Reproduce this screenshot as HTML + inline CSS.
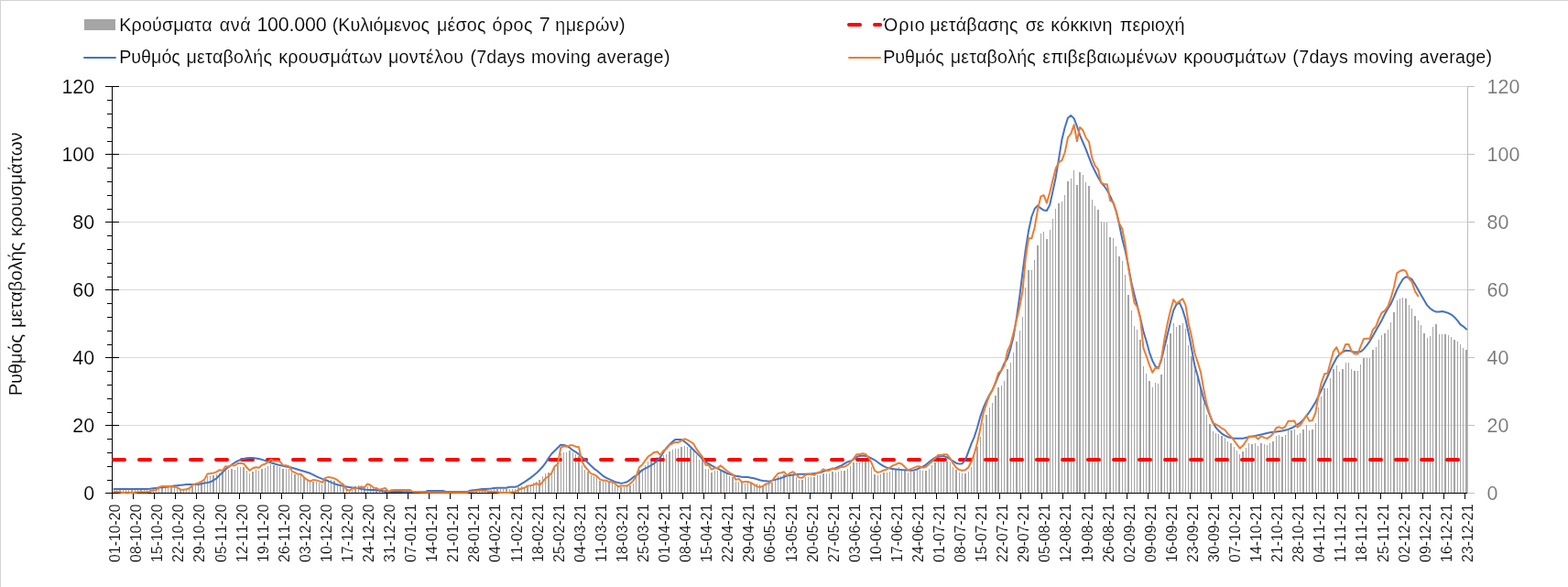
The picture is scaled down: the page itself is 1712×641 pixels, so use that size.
<!DOCTYPE html>
<html lang="el"><head><meta charset="utf-8"><title>Ρυθμός μεταβολής κρουσμάτων</title>
<style>html,body{margin:0;padding:0;background:#fff;}body{width:1712px;height:641px;overflow:hidden;}svg{display:block;}text{font-family:"Liberation Sans",sans-serif;stroke:#fff;stroke-width:0.15px;paint-order:fill stroke;font-kerning:none;}</style></head><body>
<svg width="1712" height="641" viewBox="0 0 1712 641">
<rect x="0" y="0" width="1712" height="641" fill="#fff"/>
<g shape-rendering="crispEdges"><rect x="0" y="0" width="1712" height="1" fill="#d3d3d3"/><rect x="0" y="0" width="1" height="641" fill="#d3d3d3"/></g>
<g shape-rendering="crispEdges" fill="#d9d9d9">
<rect x="123" y="464" width="1480" height="1"/>
<rect x="123" y="390" width="1480" height="1"/>
<rect x="123" y="316" width="1480" height="1"/>
<rect x="123" y="242" width="1480" height="1"/>
<rect x="123" y="168" width="1480" height="1"/>
<rect x="123" y="94" width="1480" height="1"/>
</g>
<g shape-rendering="crispEdges" fill="#a5a5a5">
<rect x="124" y="535" width="1" height="3"/>
<rect x="127" y="535" width="1" height="3"/>
<rect x="130" y="535" width="2" height="3"/>
<rect x="134" y="535" width="1" height="3"/>
<rect x="137" y="535" width="1" height="3"/>
<rect x="140" y="535" width="1" height="3"/>
<rect x="143" y="535" width="2" height="3"/>
<rect x="147" y="535" width="1" height="3"/>
<rect x="150" y="535" width="1" height="3"/>
<rect x="153" y="535" width="2" height="3"/>
<rect x="157" y="535" width="1" height="3"/>
<rect x="160" y="535" width="1" height="3"/>
<rect x="163" y="535" width="2" height="3"/>
<rect x="167" y="533" width="1" height="5"/>
<rect x="170" y="532" width="1" height="6"/>
<rect x="173" y="531" width="1" height="7"/>
<rect x="176" y="530" width="2" height="8"/>
<rect x="180" y="530" width="1" height="8"/>
<rect x="183" y="531" width="1" height="7"/>
<rect x="186" y="531" width="2" height="7"/>
<rect x="190" y="532" width="1" height="6"/>
<rect x="193" y="533" width="1" height="5"/>
<rect x="196" y="534" width="2" height="4"/>
<rect x="200" y="534" width="1" height="4"/>
<rect x="203" y="534" width="1" height="4"/>
<rect x="206" y="533" width="1" height="5"/>
<rect x="209" y="531" width="2" height="7"/>
<rect x="213" y="530" width="1" height="8"/>
<rect x="216" y="529" width="1" height="9"/>
<rect x="219" y="527" width="2" height="11"/>
<rect x="223" y="525" width="1" height="13"/>
<rect x="226" y="520" width="1" height="18"/>
<rect x="229" y="520" width="1" height="18"/>
<rect x="232" y="519" width="2" height="19"/>
<rect x="236" y="518" width="1" height="20"/>
<rect x="239" y="517" width="1" height="21"/>
<rect x="242" y="515" width="2" height="23"/>
<rect x="246" y="514" width="1" height="24"/>
<rect x="249" y="513" width="1" height="25"/>
<rect x="252" y="512" width="2" height="26"/>
<rect x="256" y="513" width="1" height="25"/>
<rect x="259" y="510" width="1" height="28"/>
<rect x="262" y="510" width="1" height="28"/>
<rect x="265" y="510" width="2" height="28"/>
<rect x="269" y="514" width="1" height="24"/>
<rect x="272" y="517" width="1" height="21"/>
<rect x="275" y="515" width="2" height="23"/>
<rect x="279" y="513" width="1" height="25"/>
<rect x="282" y="514" width="1" height="24"/>
<rect x="285" y="512" width="2" height="26"/>
<rect x="289" y="511" width="1" height="27"/>
<rect x="292" y="509" width="1" height="29"/>
<rect x="295" y="507" width="1" height="31"/>
<rect x="298" y="508" width="2" height="30"/>
<rect x="302" y="509" width="1" height="29"/>
<rect x="305" y="510" width="1" height="28"/>
<rect x="308" y="512" width="2" height="26"/>
<rect x="312" y="512" width="1" height="26"/>
<rect x="315" y="512" width="1" height="26"/>
<rect x="318" y="516" width="1" height="22"/>
<rect x="321" y="518" width="2" height="20"/>
<rect x="325" y="519" width="1" height="19"/>
<rect x="328" y="519" width="1" height="19"/>
<rect x="331" y="521" width="2" height="17"/>
<rect x="335" y="523" width="1" height="15"/>
<rect x="338" y="526" width="1" height="12"/>
<rect x="341" y="526" width="2" height="12"/>
<rect x="345" y="526" width="1" height="12"/>
<rect x="348" y="527" width="1" height="11"/>
<rect x="351" y="529" width="1" height="9"/>
<rect x="354" y="525" width="2" height="13"/>
<rect x="358" y="524" width="1" height="14"/>
<rect x="361" y="524" width="1" height="14"/>
<rect x="364" y="525" width="2" height="13"/>
<rect x="368" y="528" width="1" height="10"/>
<rect x="371" y="530" width="1" height="8"/>
<rect x="374" y="532" width="2" height="6"/>
<rect x="378" y="535" width="1" height="3"/>
<rect x="381" y="535" width="1" height="3"/>
<rect x="384" y="533" width="1" height="5"/>
<rect x="387" y="531" width="2" height="7"/>
<rect x="391" y="530" width="1" height="8"/>
<rect x="394" y="530" width="1" height="8"/>
<rect x="397" y="533" width="2" height="5"/>
<rect x="401" y="531" width="1" height="7"/>
<rect x="404" y="531" width="1" height="7"/>
<rect x="407" y="532" width="1" height="6"/>
<rect x="410" y="532" width="2" height="6"/>
<rect x="414" y="534" width="1" height="4"/>
<rect x="417" y="535" width="1" height="3"/>
<rect x="420" y="535" width="2" height="3"/>
<rect x="424" y="536" width="1" height="2"/>
<rect x="427" y="536" width="1" height="2"/>
<rect x="430" y="536" width="2" height="2"/>
<rect x="434" y="536" width="1" height="2"/>
<rect x="437" y="536" width="1" height="2"/>
<rect x="440" y="536" width="1" height="2"/>
<rect x="443" y="536" width="2" height="2"/>
<rect x="447" y="537" width="1" height="1"/>
<rect x="450" y="537" width="1" height="1"/>
<rect x="453" y="537" width="2" height="1"/>
<rect x="457" y="537" width="1" height="1"/>
<rect x="460" y="537" width="1" height="1"/>
<rect x="463" y="537" width="2" height="1"/>
<rect x="467" y="537" width="1" height="1"/>
<rect x="470" y="537" width="1" height="1"/>
<rect x="473" y="537" width="1" height="1"/>
<rect x="476" y="537" width="2" height="1"/>
<rect x="480" y="537" width="1" height="1"/>
<rect x="483" y="537" width="1" height="1"/>
<rect x="486" y="537" width="2" height="1"/>
<rect x="490" y="537" width="1" height="1"/>
<rect x="493" y="537" width="1" height="1"/>
<rect x="496" y="537" width="1" height="1"/>
<rect x="499" y="537" width="2" height="1"/>
<rect x="503" y="537" width="1" height="1"/>
<rect x="506" y="537" width="1" height="1"/>
<rect x="509" y="537" width="2" height="1"/>
<rect x="513" y="537" width="1" height="1"/>
<rect x="516" y="536" width="1" height="2"/>
<rect x="519" y="536" width="2" height="2"/>
<rect x="523" y="536" width="1" height="2"/>
<rect x="526" y="536" width="1" height="2"/>
<rect x="529" y="536" width="1" height="2"/>
<rect x="532" y="536" width="2" height="2"/>
<rect x="536" y="535" width="1" height="3"/>
<rect x="539" y="534" width="1" height="4"/>
<rect x="542" y="534" width="2" height="4"/>
<rect x="546" y="534" width="1" height="4"/>
<rect x="549" y="534" width="1" height="4"/>
<rect x="552" y="534" width="2" height="4"/>
<rect x="556" y="534" width="1" height="4"/>
<rect x="559" y="534" width="1" height="4"/>
<rect x="562" y="534" width="1" height="4"/>
<rect x="565" y="532" width="2" height="6"/>
<rect x="569" y="531" width="1" height="7"/>
<rect x="572" y="532" width="1" height="6"/>
<rect x="575" y="530" width="2" height="8"/>
<rect x="579" y="529" width="1" height="9"/>
<rect x="582" y="527" width="1" height="11"/>
<rect x="585" y="526" width="1" height="12"/>
<rect x="588" y="524" width="2" height="14"/>
<rect x="592" y="520" width="1" height="18"/>
<rect x="595" y="517" width="1" height="21"/>
<rect x="598" y="516" width="2" height="22"/>
<rect x="602" y="517" width="1" height="21"/>
<rect x="605" y="510" width="1" height="28"/>
<rect x="608" y="508" width="2" height="30"/>
<rect x="612" y="495" width="1" height="43"/>
<rect x="615" y="494" width="1" height="44"/>
<rect x="618" y="494" width="1" height="44"/>
<rect x="621" y="492" width="2" height="46"/>
<rect x="625" y="494" width="1" height="44"/>
<rect x="628" y="496" width="1" height="42"/>
<rect x="631" y="498" width="2" height="40"/>
<rect x="635" y="508" width="1" height="30"/>
<rect x="638" y="513" width="1" height="25"/>
<rect x="641" y="515" width="2" height="23"/>
<rect x="645" y="519" width="1" height="19"/>
<rect x="648" y="520" width="1" height="18"/>
<rect x="651" y="521" width="1" height="17"/>
<rect x="654" y="525" width="2" height="13"/>
<rect x="658" y="525" width="1" height="13"/>
<rect x="661" y="526" width="1" height="12"/>
<rect x="664" y="527" width="2" height="11"/>
<rect x="668" y="527" width="1" height="11"/>
<rect x="671" y="530" width="1" height="8"/>
<rect x="674" y="532" width="1" height="6"/>
<rect x="677" y="532" width="2" height="6"/>
<rect x="681" y="532" width="1" height="6"/>
<rect x="684" y="531" width="1" height="7"/>
<rect x="687" y="530" width="2" height="8"/>
<rect x="691" y="528" width="1" height="10"/>
<rect x="694" y="521" width="1" height="17"/>
<rect x="697" y="513" width="2" height="25"/>
<rect x="701" y="512" width="1" height="26"/>
<rect x="704" y="508" width="1" height="30"/>
<rect x="707" y="504" width="1" height="34"/>
<rect x="710" y="502" width="2" height="36"/>
<rect x="714" y="500" width="1" height="38"/>
<rect x="717" y="499" width="1" height="39"/>
<rect x="720" y="502" width="2" height="36"/>
<rect x="724" y="497" width="1" height="41"/>
<rect x="727" y="496" width="1" height="42"/>
<rect x="730" y="493" width="2" height="45"/>
<rect x="734" y="491" width="1" height="47"/>
<rect x="737" y="490" width="1" height="48"/>
<rect x="740" y="490" width="1" height="48"/>
<rect x="743" y="488" width="2" height="50"/>
<rect x="747" y="487" width="1" height="51"/>
<rect x="750" y="488" width="1" height="50"/>
<rect x="753" y="490" width="2" height="48"/>
<rect x="757" y="492" width="1" height="46"/>
<rect x="760" y="497" width="1" height="41"/>
<rect x="763" y="502" width="1" height="36"/>
<rect x="766" y="504" width="2" height="34"/>
<rect x="770" y="512" width="1" height="26"/>
<rect x="773" y="512" width="1" height="26"/>
<rect x="776" y="516" width="2" height="22"/>
<rect x="780" y="514" width="1" height="24"/>
<rect x="783" y="514" width="1" height="24"/>
<rect x="786" y="514" width="2" height="24"/>
<rect x="790" y="516" width="1" height="22"/>
<rect x="793" y="517" width="1" height="21"/>
<rect x="796" y="520" width="1" height="18"/>
<rect x="799" y="521" width="2" height="17"/>
<rect x="803" y="526" width="1" height="12"/>
<rect x="806" y="526" width="1" height="12"/>
<rect x="809" y="527" width="2" height="11"/>
<rect x="813" y="528" width="1" height="10"/>
<rect x="816" y="527" width="1" height="11"/>
<rect x="819" y="528" width="2" height="10"/>
<rect x="823" y="530" width="1" height="8"/>
<rect x="826" y="528" width="1" height="10"/>
<rect x="829" y="529" width="1" height="9"/>
<rect x="832" y="530" width="2" height="8"/>
<rect x="836" y="528" width="1" height="10"/>
<rect x="839" y="528" width="1" height="10"/>
<rect x="842" y="527" width="2" height="11"/>
<rect x="846" y="524" width="1" height="14"/>
<rect x="849" y="520" width="1" height="18"/>
<rect x="852" y="520" width="1" height="18"/>
<rect x="855" y="518" width="2" height="20"/>
<rect x="859" y="521" width="1" height="17"/>
<rect x="862" y="520" width="1" height="18"/>
<rect x="865" y="519" width="2" height="19"/>
<rect x="869" y="521" width="1" height="17"/>
<rect x="872" y="524" width="1" height="14"/>
<rect x="875" y="524" width="2" height="14"/>
<rect x="879" y="521" width="1" height="17"/>
<rect x="882" y="521" width="1" height="17"/>
<rect x="885" y="521" width="1" height="17"/>
<rect x="888" y="521" width="2" height="17"/>
<rect x="892" y="519" width="1" height="19"/>
<rect x="895" y="519" width="1" height="19"/>
<rect x="898" y="517" width="2" height="21"/>
<rect x="902" y="517" width="1" height="21"/>
<rect x="905" y="517" width="1" height="21"/>
<rect x="908" y="515" width="2" height="23"/>
<rect x="912" y="516" width="1" height="22"/>
<rect x="915" y="515" width="1" height="23"/>
<rect x="918" y="514" width="1" height="24"/>
<rect x="921" y="514" width="2" height="24"/>
<rect x="925" y="512" width="1" height="26"/>
<rect x="928" y="509" width="1" height="29"/>
<rect x="931" y="505" width="2" height="33"/>
<rect x="935" y="505" width="1" height="33"/>
<rect x="938" y="505" width="1" height="33"/>
<rect x="941" y="504" width="1" height="34"/>
<rect x="944" y="504" width="2" height="34"/>
<rect x="948" y="504" width="1" height="34"/>
<rect x="951" y="510" width="1" height="28"/>
<rect x="954" y="518" width="2" height="20"/>
<rect x="958" y="519" width="1" height="19"/>
<rect x="961" y="518" width="1" height="20"/>
<rect x="964" y="516" width="2" height="22"/>
<rect x="968" y="516" width="1" height="22"/>
<rect x="971" y="515" width="1" height="23"/>
<rect x="974" y="513" width="1" height="25"/>
<rect x="977" y="512" width="2" height="26"/>
<rect x="981" y="510" width="1" height="28"/>
<rect x="984" y="512" width="1" height="26"/>
<rect x="987" y="514" width="2" height="24"/>
<rect x="991" y="516" width="1" height="22"/>
<rect x="994" y="515" width="1" height="23"/>
<rect x="997" y="515" width="2" height="23"/>
<rect x="1001" y="514" width="1" height="24"/>
<rect x="1004" y="513" width="1" height="25"/>
<rect x="1007" y="514" width="1" height="24"/>
<rect x="1010" y="514" width="2" height="24"/>
<rect x="1014" y="512" width="1" height="26"/>
<rect x="1017" y="508" width="1" height="30"/>
<rect x="1020" y="505" width="2" height="33"/>
<rect x="1024" y="504" width="1" height="34"/>
<rect x="1027" y="504" width="1" height="34"/>
<rect x="1030" y="504" width="1" height="34"/>
<rect x="1033" y="504" width="2" height="34"/>
<rect x="1037" y="505" width="1" height="33"/>
<rect x="1040" y="510" width="1" height="28"/>
<rect x="1043" y="513" width="2" height="25"/>
<rect x="1047" y="516" width="1" height="22"/>
<rect x="1050" y="517" width="1" height="21"/>
<rect x="1053" y="517" width="2" height="21"/>
<rect x="1057" y="515" width="1" height="23"/>
<rect x="1060" y="510" width="1" height="28"/>
<rect x="1063" y="496" width="1" height="42"/>
<rect x="1066" y="488" width="2" height="50"/>
<rect x="1070" y="477" width="1" height="61"/>
<rect x="1073" y="462" width="1" height="76"/>
<rect x="1076" y="453" width="2" height="85"/>
<rect x="1080" y="445" width="1" height="93"/>
<rect x="1083" y="440" width="1" height="98"/>
<rect x="1086" y="432" width="2" height="106"/>
<rect x="1089" y="423" width="2" height="115"/>
<rect x="1093" y="421" width="1" height="117"/>
<rect x="1096" y="416" width="1" height="122"/>
<rect x="1099" y="403" width="2" height="135"/>
<rect x="1103" y="396" width="1" height="142"/>
<rect x="1106" y="385" width="1" height="153"/>
<rect x="1109" y="373" width="2" height="165"/>
<rect x="1113" y="361" width="1" height="177"/>
<rect x="1116" y="346" width="1" height="192"/>
<rect x="1119" y="314" width="1" height="224"/>
<rect x="1122" y="295" width="2" height="243"/>
<rect x="1126" y="295" width="1" height="243"/>
<rect x="1129" y="284" width="1" height="254"/>
<rect x="1132" y="268" width="2" height="270"/>
<rect x="1136" y="255" width="1" height="283"/>
<rect x="1139" y="253" width="1" height="285"/>
<rect x="1142" y="261" width="2" height="277"/>
<rect x="1146" y="251" width="1" height="287"/>
<rect x="1149" y="239" width="1" height="299"/>
<rect x="1152" y="228" width="1" height="310"/>
<rect x="1155" y="222" width="2" height="316"/>
<rect x="1159" y="220" width="1" height="318"/>
<rect x="1162" y="213" width="1" height="325"/>
<rect x="1165" y="198" width="2" height="340"/>
<rect x="1169" y="195" width="1" height="343"/>
<rect x="1172" y="186" width="1" height="352"/>
<rect x="1175" y="202" width="2" height="336"/>
<rect x="1178" y="188" width="2" height="350"/>
<rect x="1182" y="191" width="1" height="347"/>
<rect x="1185" y="199" width="1" height="339"/>
<rect x="1188" y="203" width="2" height="335"/>
<rect x="1192" y="218" width="1" height="320"/>
<rect x="1195" y="225" width="1" height="313"/>
<rect x="1198" y="229" width="2" height="309"/>
<rect x="1202" y="242" width="1" height="296"/>
<rect x="1205" y="243" width="1" height="295"/>
<rect x="1208" y="243" width="1" height="295"/>
<rect x="1211" y="259" width="2" height="279"/>
<rect x="1215" y="260" width="1" height="278"/>
<rect x="1218" y="269" width="1" height="269"/>
<rect x="1221" y="280" width="2" height="258"/>
<rect x="1225" y="285" width="1" height="253"/>
<rect x="1228" y="300" width="1" height="238"/>
<rect x="1231" y="322" width="2" height="216"/>
<rect x="1235" y="339" width="1" height="199"/>
<rect x="1238" y="356" width="1" height="182"/>
<rect x="1241" y="360" width="1" height="178"/>
<rect x="1244" y="371" width="2" height="167"/>
<rect x="1248" y="400" width="1" height="138"/>
<rect x="1251" y="408" width="1" height="130"/>
<rect x="1254" y="416" width="2" height="122"/>
<rect x="1258" y="423" width="1" height="115"/>
<rect x="1261" y="418" width="1" height="120"/>
<rect x="1264" y="419" width="1" height="119"/>
<rect x="1267" y="409" width="2" height="129"/>
<rect x="1271" y="391" width="1" height="147"/>
<rect x="1274" y="376" width="1" height="162"/>
<rect x="1277" y="364" width="2" height="174"/>
<rect x="1281" y="353" width="1" height="185"/>
<rect x="1284" y="357" width="1" height="181"/>
<rect x="1287" y="355" width="2" height="183"/>
<rect x="1291" y="353" width="1" height="185"/>
<rect x="1294" y="359" width="1" height="179"/>
<rect x="1297" y="377" width="1" height="161"/>
<rect x="1300" y="389" width="2" height="149"/>
<rect x="1304" y="404" width="1" height="134"/>
<rect x="1307" y="413" width="1" height="125"/>
<rect x="1310" y="423" width="2" height="115"/>
<rect x="1314" y="440" width="1" height="98"/>
<rect x="1317" y="453" width="1" height="85"/>
<rect x="1320" y="463" width="2" height="75"/>
<rect x="1324" y="471" width="1" height="67"/>
<rect x="1327" y="473" width="1" height="65"/>
<rect x="1330" y="474" width="1" height="64"/>
<rect x="1333" y="476" width="2" height="62"/>
<rect x="1337" y="478" width="1" height="60"/>
<rect x="1340" y="482" width="1" height="56"/>
<rect x="1343" y="484" width="2" height="54"/>
<rect x="1347" y="488" width="1" height="50"/>
<rect x="1350" y="492" width="1" height="46"/>
<rect x="1353" y="496" width="1" height="42"/>
<rect x="1356" y="493" width="2" height="45"/>
<rect x="1360" y="489" width="1" height="49"/>
<rect x="1363" y="484" width="1" height="54"/>
<rect x="1366" y="485" width="2" height="53"/>
<rect x="1370" y="484" width="1" height="54"/>
<rect x="1373" y="487" width="1" height="51"/>
<rect x="1376" y="484" width="2" height="54"/>
<rect x="1380" y="485" width="1" height="53"/>
<rect x="1383" y="486" width="1" height="52"/>
<rect x="1386" y="484" width="1" height="54"/>
<rect x="1389" y="482" width="2" height="56"/>
<rect x="1393" y="476" width="1" height="62"/>
<rect x="1396" y="475" width="1" height="63"/>
<rect x="1399" y="477" width="2" height="61"/>
<rect x="1403" y="475" width="1" height="63"/>
<rect x="1406" y="469" width="1" height="69"/>
<rect x="1409" y="470" width="2" height="68"/>
<rect x="1413" y="469" width="1" height="69"/>
<rect x="1416" y="475" width="1" height="63"/>
<rect x="1419" y="473" width="1" height="65"/>
<rect x="1422" y="469" width="2" height="69"/>
<rect x="1426" y="464" width="1" height="74"/>
<rect x="1429" y="470" width="1" height="68"/>
<rect x="1432" y="469" width="2" height="69"/>
<rect x="1436" y="462" width="1" height="76"/>
<rect x="1439" y="445" width="1" height="93"/>
<rect x="1442" y="433" width="1" height="105"/>
<rect x="1445" y="424" width="2" height="114"/>
<rect x="1449" y="424" width="1" height="114"/>
<rect x="1452" y="413" width="1" height="125"/>
<rect x="1455" y="403" width="2" height="135"/>
<rect x="1459" y="399" width="1" height="139"/>
<rect x="1462" y="406" width="1" height="132"/>
<rect x="1465" y="403" width="2" height="135"/>
<rect x="1469" y="396" width="1" height="142"/>
<rect x="1472" y="396" width="1" height="142"/>
<rect x="1475" y="403" width="1" height="135"/>
<rect x="1478" y="405" width="2" height="133"/>
<rect x="1482" y="405" width="1" height="133"/>
<rect x="1485" y="398" width="1" height="140"/>
<rect x="1488" y="391" width="2" height="147"/>
<rect x="1492" y="391" width="1" height="147"/>
<rect x="1495" y="391" width="1" height="147"/>
<rect x="1498" y="382" width="2" height="156"/>
<rect x="1502" y="379" width="1" height="159"/>
<rect x="1505" y="371" width="1" height="167"/>
<rect x="1508" y="366" width="1" height="172"/>
<rect x="1511" y="364" width="2" height="174"/>
<rect x="1515" y="360" width="1" height="178"/>
<rect x="1518" y="352" width="1" height="186"/>
<rect x="1521" y="341" width="2" height="197"/>
<rect x="1525" y="328" width="1" height="210"/>
<rect x="1528" y="326" width="1" height="212"/>
<rect x="1531" y="325" width="1" height="213"/>
<rect x="1534" y="326" width="2" height="212"/>
<rect x="1538" y="333" width="1" height="205"/>
<rect x="1541" y="337" width="1" height="201"/>
<rect x="1544" y="345" width="2" height="193"/>
<rect x="1548" y="350" width="1" height="188"/>
<rect x="1551" y="355" width="1" height="183"/>
<rect x="1554" y="364" width="2" height="174"/>
<rect x="1558" y="369" width="1" height="169"/>
<rect x="1561" y="367" width="1" height="171"/>
<rect x="1564" y="357" width="1" height="181"/>
<rect x="1567" y="354" width="2" height="184"/>
<rect x="1571" y="365" width="1" height="173"/>
<rect x="1574" y="365" width="1" height="173"/>
<rect x="1577" y="365" width="2" height="173"/>
<rect x="1581" y="366" width="1" height="172"/>
<rect x="1584" y="368" width="1" height="170"/>
<rect x="1587" y="371" width="2" height="167"/>
<rect x="1591" y="373" width="1" height="165"/>
<rect x="1594" y="376" width="1" height="162"/>
<rect x="1597" y="380" width="1" height="158"/>
<rect x="1600" y="382" width="2" height="156"/>
</g>
<g shape-rendering="crispEdges" fill="#000">
<rect x="122" y="94" width="1" height="451"/>
<rect x="122" y="538" width="1481" height="1"/>
<rect x="115" y="538" width="8" height="1"/>
<rect x="117" y="524" width="5" height="1"/>
<rect x="117" y="509" width="5" height="1"/>
<rect x="117" y="494" width="5" height="1"/>
<rect x="117" y="479" width="5" height="1"/>
<rect x="115" y="464" width="15" height="1"/>
<rect x="117" y="450" width="5" height="1"/>
<rect x="117" y="435" width="5" height="1"/>
<rect x="117" y="420" width="5" height="1"/>
<rect x="117" y="405" width="5" height="1"/>
<rect x="115" y="390" width="15" height="1"/>
<rect x="117" y="376" width="5" height="1"/>
<rect x="117" y="361" width="5" height="1"/>
<rect x="117" y="346" width="5" height="1"/>
<rect x="117" y="331" width="5" height="1"/>
<rect x="115" y="316" width="15" height="1"/>
<rect x="117" y="302" width="5" height="1"/>
<rect x="117" y="287" width="5" height="1"/>
<rect x="117" y="272" width="5" height="1"/>
<rect x="117" y="257" width="5" height="1"/>
<rect x="115" y="242" width="15" height="1"/>
<rect x="117" y="228" width="5" height="1"/>
<rect x="117" y="213" width="5" height="1"/>
<rect x="117" y="198" width="5" height="1"/>
<rect x="117" y="183" width="5" height="1"/>
<rect x="115" y="168" width="15" height="1"/>
<rect x="117" y="154" width="5" height="1"/>
<rect x="117" y="139" width="5" height="1"/>
<rect x="117" y="124" width="5" height="1"/>
<rect x="117" y="109" width="5" height="1"/>
<rect x="115" y="94" width="15" height="1"/>
<rect x="145" y="538" width="1" height="7"/>
<rect x="168" y="538" width="1" height="7"/>
<rect x="191" y="538" width="1" height="7"/>
<rect x="214" y="538" width="1" height="7"/>
<rect x="238" y="538" width="1" height="7"/>
<rect x="261" y="538" width="1" height="7"/>
<rect x="284" y="538" width="1" height="7"/>
<rect x="307" y="538" width="1" height="7"/>
<rect x="330" y="538" width="1" height="7"/>
<rect x="353" y="538" width="1" height="7"/>
<rect x="376" y="538" width="1" height="7"/>
<rect x="399" y="538" width="1" height="7"/>
<rect x="422" y="538" width="1" height="7"/>
<rect x="445" y="538" width="1" height="7"/>
<rect x="468" y="538" width="1" height="7"/>
<rect x="491" y="538" width="1" height="7"/>
<rect x="514" y="538" width="1" height="7"/>
<rect x="537" y="538" width="1" height="7"/>
<rect x="561" y="538" width="1" height="7"/>
<rect x="584" y="538" width="1" height="7"/>
<rect x="607" y="538" width="1" height="7"/>
<rect x="630" y="538" width="1" height="7"/>
<rect x="653" y="538" width="1" height="7"/>
<rect x="676" y="538" width="1" height="7"/>
<rect x="699" y="538" width="1" height="7"/>
<rect x="722" y="538" width="1" height="7"/>
<rect x="745" y="538" width="1" height="7"/>
<rect x="768" y="538" width="1" height="7"/>
<rect x="791" y="538" width="1" height="7"/>
<rect x="814" y="538" width="1" height="7"/>
<rect x="837" y="538" width="1" height="7"/>
<rect x="861" y="538" width="1" height="7"/>
<rect x="884" y="538" width="1" height="7"/>
<rect x="907" y="538" width="1" height="7"/>
<rect x="930" y="538" width="1" height="7"/>
<rect x="953" y="538" width="1" height="7"/>
<rect x="976" y="538" width="1" height="7"/>
<rect x="999" y="538" width="1" height="7"/>
<rect x="1022" y="538" width="1" height="7"/>
<rect x="1045" y="538" width="1" height="7"/>
<rect x="1068" y="538" width="1" height="7"/>
<rect x="1091" y="538" width="1" height="7"/>
<rect x="1114" y="538" width="1" height="7"/>
<rect x="1137" y="538" width="1" height="7"/>
<rect x="1160" y="538" width="1" height="7"/>
<rect x="1184" y="538" width="1" height="7"/>
<rect x="1207" y="538" width="1" height="7"/>
<rect x="1230" y="538" width="1" height="7"/>
<rect x="1253" y="538" width="1" height="7"/>
<rect x="1276" y="538" width="1" height="7"/>
<rect x="1299" y="538" width="1" height="7"/>
<rect x="1322" y="538" width="1" height="7"/>
<rect x="1345" y="538" width="1" height="7"/>
<rect x="1368" y="538" width="1" height="7"/>
<rect x="1391" y="538" width="1" height="7"/>
<rect x="1414" y="538" width="1" height="7"/>
<rect x="1437" y="538" width="1" height="7"/>
<rect x="1460" y="538" width="1" height="7"/>
<rect x="1483" y="538" width="1" height="7"/>
<rect x="1507" y="538" width="1" height="7"/>
<rect x="1530" y="538" width="1" height="7"/>
<rect x="1553" y="538" width="1" height="7"/>
<rect x="1576" y="538" width="1" height="7"/>
<rect x="1599" y="538" width="1" height="7"/>
</g>
<g shape-rendering="crispEdges" fill="#bfbfbf">
<rect x="1602" y="94" width="1" height="445"/>
<rect x="1602" y="538" width="8" height="1"/>
<rect x="1602" y="464" width="8" height="1"/>
<rect x="1602" y="390" width="8" height="1"/>
<rect x="1602" y="316" width="8" height="1"/>
<rect x="1602" y="242" width="8" height="1"/>
<rect x="1602" y="168" width="8" height="1"/>
<rect x="1602" y="94" width="8" height="1"/>
</g>
<path d="M124 502 H1601.06" stroke="#ff0000" stroke-width="4" stroke-linecap="round" stroke-dasharray="12 16" fill="none"/>
<path d="M124.4 534.0 L127.7 534.0 L131.0 534.0 L134.2 534.0 L137.5 534.0 L140.8 534.0 L144.1 534.0 L147.4 534.0 L150.7 534.0 L154.0 534.0 L157.3 534.0 L160.6 534.0 L163.9 533.8 L167.2 533.3 L170.5 532.9 L173.8 532.6 L177.1 532.3 L180.4 531.9 L183.7 531.5 L187.0 531.1 L190.3 530.6 L193.6 530.2 L196.9 529.8 L200.2 529.4 L203.5 529.1 L206.8 529.1 L210.1 529.1 L213.4 529.1 L216.7 529.0 L219.9 528.3 L223.2 527.6 L226.5 527.0 L229.8 526.3 L233.1 524.5 L236.4 522.3 L239.7 519.0 L243.0 515.8 L246.3 512.5 L249.6 509.9 L252.9 507.5 L256.2 505.2 L259.5 503.4 L262.8 502.0 L266.1 501.0 L269.4 500.3 L272.7 500.0 L276.0 500.1 L279.3 500.4 L282.6 501.0 L285.9 501.9 L289.2 502.9 L292.5 504.1 L295.8 505.2 L299.1 506.2 L302.4 507.2 L305.6 508.1 L308.9 508.8 L312.2 509.4 L315.5 510.1 L318.8 510.8 L322.1 511.7 L325.4 512.7 L328.7 513.7 L332.0 514.7 L335.3 515.7 L338.6 516.8 L341.9 518.4 L345.2 520.1 L348.5 521.6 L351.8 522.9 L355.1 524.0 L358.4 525.3 L361.7 526.9 L365.0 528.1 L368.3 529.2 L371.6 530.0 L374.9 530.7 L378.2 531.4 L381.5 532.1 L384.8 532.4 L388.1 532.7 L391.4 533.3 L394.6 533.9 L397.9 534.4 L401.2 534.8 L404.5 534.9 L407.8 535.0 L411.1 535.3 L414.4 535.8 L417.7 536.3 L421.0 536.8 L424.3 537.0 L427.6 537.0 L430.9 537.1 L434.2 537.1 L437.5 537.1 L440.8 537.2 L444.1 537.2 L447.4 537.2 L450.7 537.2 L454.0 537.2 L457.3 537.2 L460.6 537.2 L463.9 537.2 L467.2 536.0 L470.5 536.0 L473.8 536.0 L477.1 536.0 L480.3 536.0 L483.6 536.0 L486.9 537.0 L490.2 537.0 L493.5 537.0 L496.8 537.0 L500.1 537.1 L503.4 537.1 L506.7 537.1 L510.0 537.1 L513.3 535.7 L516.6 535.3 L519.9 534.9 L523.2 534.5 L526.5 534.1 L529.8 534.0 L533.1 533.8 L536.4 533.6 L539.7 533.0 L543.0 532.8 L546.3 532.8 L549.6 532.8 L552.9 532.8 L556.2 531.8 L559.5 531.8 L562.8 531.8 L566.1 530.3 L569.3 528.4 L572.6 526.4 L575.9 524.2 L579.2 521.9 L582.5 519.3 L585.8 516.6 L589.1 513.3 L592.4 509.8 L595.7 505.4 L599.0 500.0 L602.3 495.5 L605.6 492.3 L608.9 489.0 L612.2 485.7 L615.5 485.9 L618.8 487.0 L622.1 488.9 L625.4 491.7 L628.7 493.6 L632.0 496.0 L635.3 499.3 L638.6 502.3 L641.9 505.2 L645.2 508.5 L648.5 511.6 L651.8 514.0 L655.0 516.7 L658.3 519.6 L661.6 521.6 L664.9 523.2 L668.2 524.7 L671.5 526.1 L674.8 527.0 L678.1 527.9 L681.4 527.1 L684.7 526.2 L688.0 523.9 L691.3 521.2 L694.6 519.5 L697.9 516.4 L701.2 513.3 L704.5 511.6 L707.8 509.9 L711.1 508.0 L714.4 506.0 L717.7 502.8 L721.0 499.3 L724.3 493.9 L727.6 489.2 L730.9 485.5 L734.2 482.4 L737.5 479.9 L740.8 479.9 L744.0 480.0 L747.3 482.2 L750.6 484.7 L753.9 488.0 L757.2 491.3 L760.5 494.6 L763.8 497.9 L767.1 501.2 L770.4 504.4 L773.7 506.3 L777.0 508.3 L780.3 510.1 L783.6 511.7 L786.9 513.4 L790.2 515.0 L793.5 516.7 L796.8 517.8 L800.1 518.9 L803.4 519.8 L806.7 520.3 L810.0 520.8 L813.3 521.0 L816.6 521.1 L819.9 521.7 L823.2 522.3 L826.5 523.2 L829.7 524.2 L833.0 524.9 L836.3 525.3 L839.6 525.7 L842.9 524.9 L846.2 523.9 L849.5 523.0 L852.8 522.1 L856.1 520.7 L859.4 519.5 L862.7 519.0 L866.0 518.6 L869.3 518.1 L872.6 517.8 L875.9 517.8 L879.2 517.7 L882.5 517.5 L885.8 517.3 L889.1 517.0 L892.4 516.6 L895.7 516.1 L899.0 514.9 L902.3 513.6 L905.6 512.7 L908.9 512.0 L912.2 511.1 L915.4 509.8 L918.7 508.4 L922.0 506.4 L925.3 504.4 L928.6 503.4 L931.9 501.8 L935.2 498.9 L938.5 498.0 L941.8 497.4 L945.1 497.9 L948.4 499.0 L951.7 500.6 L955.0 502.3 L958.3 504.8 L961.6 507.1 L964.9 509.2 L968.2 510.6 L971.5 511.4 L974.8 512.0 L978.1 512.4 L981.4 512.8 L984.7 513.1 L988.0 513.3 L991.3 513.6 L994.6 513.8 L997.9 513.5 L1001.2 512.5 L1004.4 510.9 L1007.7 509.5 L1011.0 507.4 L1014.3 504.6 L1017.6 502.1 L1020.9 499.8 L1024.2 498.7 L1027.5 498.3 L1030.8 498.1 L1034.1 499.4 L1037.4 501.5 L1040.7 503.6 L1044.0 505.7 L1047.3 506.6 L1050.6 506.2 L1053.9 502.4 L1057.2 493.7 L1060.5 484.7 L1063.8 477.1 L1067.1 466.7 L1070.4 454.8 L1073.7 445.4 L1077.0 438.0 L1080.3 431.3 L1083.6 425.8 L1086.9 418.4 L1090.1 410.4 L1093.4 404.0 L1096.7 396.5 L1100.0 391.5 L1103.3 380.5 L1106.6 367.5 L1109.9 347.4 L1113.2 324.3 L1116.5 297.7 L1119.8 272.3 L1123.1 251.7 L1126.4 236.5 L1129.7 228.0 L1133.0 224.4 L1136.3 227.4 L1139.6 229.6 L1142.9 230.0 L1146.2 223.8 L1149.5 208.9 L1152.8 193.2 L1156.1 173.2 L1159.4 152.6 L1162.7 139.0 L1166.0 128.8 L1169.3 126.1 L1172.6 129.4 L1175.9 137.8 L1179.1 147.6 L1182.4 155.5 L1185.7 163.2 L1189.0 171.8 L1192.3 180.4 L1195.6 187.0 L1198.9 193.6 L1202.2 199.3 L1205.5 203.0 L1208.8 207.8 L1212.1 214.1 L1215.4 221.5 L1218.7 230.8 L1222.0 245.0 L1225.3 261.0 L1228.6 273.8 L1231.9 290.3 L1235.2 307.9 L1238.5 321.7 L1241.8 334.3 L1245.1 347.8 L1248.4 361.8 L1251.7 372.8 L1255.0 384.8 L1258.3 393.9 L1261.6 400.2 L1264.8 401.8 L1268.1 392.8 L1271.4 378.9 L1274.7 365.5 L1278.0 351.4 L1281.3 338.7 L1284.6 332.3 L1287.9 330.7 L1291.2 338.1 L1294.5 349.0 L1297.8 364.3 L1301.1 381.3 L1304.4 399.4 L1307.7 410.7 L1311.0 423.7 L1314.3 436.0 L1317.6 444.7 L1320.9 453.3 L1324.2 461.1 L1327.5 466.9 L1330.8 470.5 L1334.1 473.6 L1337.4 475.6 L1340.7 477.2 L1344.0 478.0 L1347.3 478.7 L1350.5 478.7 L1353.8 478.7 L1357.1 478.7 L1360.4 478.0 L1363.7 477.3 L1367.0 476.6 L1370.3 475.9 L1373.6 475.3 L1376.9 474.6 L1380.2 473.8 L1383.5 473.0 L1386.8 472.2 L1390.1 471.7 L1393.4 471.4 L1396.7 471.0 L1400.0 470.4 L1403.3 469.7 L1406.6 468.9 L1409.9 467.5 L1413.2 465.9 L1416.5 463.8 L1419.8 461.5 L1423.1 458.1 L1426.4 454.4 L1429.7 449.7 L1433.0 444.6 L1436.3 439.3 L1439.5 432.7 L1442.8 425.9 L1446.1 418.5 L1449.4 411.3 L1452.7 403.9 L1456.0 397.0 L1459.3 390.9 L1462.6 386.8 L1465.9 384.5 L1469.2 382.7 L1472.5 382.9 L1475.8 383.6 L1479.1 384.6 L1482.4 384.5 L1485.7 384.1 L1489.0 381.2 L1492.3 377.2 L1495.6 372.6 L1498.9 366.9 L1502.2 360.9 L1505.5 355.2 L1508.8 349.4 L1512.1 342.8 L1515.4 336.9 L1518.7 331.6 L1522.0 324.4 L1525.2 316.5 L1528.5 310.2 L1531.8 304.7 L1535.1 302.2 L1538.4 303.2 L1541.7 305.2 L1545.0 310.6 L1548.3 316.2 L1551.6 322.2 L1554.9 327.8 L1558.2 333.4 L1561.5 336.7 L1564.8 339.1 L1568.1 340.6 L1571.4 340.5 L1574.7 340.0 L1578.0 340.8 L1581.3 341.9 L1584.6 343.6 L1587.9 346.3 L1591.2 349.9 L1594.5 354.4 L1597.8 356.6 L1601.1 359.6" stroke="#4472c4" stroke-width="2" stroke-linejoin="round" stroke-linecap="round" fill="none"/>
<path d="M124.4 537.1 L127.7 537.0 L131.0 537.3 L134.2 538.2 L137.5 537.8 L140.8 537.7 L144.1 538.2 L147.4 537.7 L150.7 537.3 L154.0 537.2 L157.3 537.2 L160.6 537.2 L163.9 536.8 L167.2 535.5 L170.5 535.2 L173.8 531.9 L177.1 530.9 L180.4 530.9 L183.7 530.9 L187.0 531.3 L190.3 531.9 L193.6 532.3 L196.9 534.4 L200.2 534.8 L203.5 534.3 L206.8 533.3 L210.1 529.8 L213.4 528.3 L216.7 527.5 L219.9 525.8 L223.2 523.6 L226.5 517.4 L229.8 517.1 L233.1 516.4 L236.4 515.4 L239.7 513.2 L243.0 513.8 L246.3 509.2 L249.6 509.6 L252.9 508.0 L256.2 508.5 L259.5 506.1 L262.8 505.7 L266.1 506.4 L269.4 510.5 L272.7 513.8 L276.0 511.2 L279.3 510.2 L282.6 510.8 L285.9 507.9 L289.2 506.7 L292.5 504.8 L295.8 501.7 L299.1 503.6 L302.4 503.2 L305.6 503.9 L308.9 507.9 L312.2 508.3 L315.5 509.1 L318.8 514.6 L322.1 516.2 L325.4 517.8 L328.7 517.8 L332.0 521.2 L335.3 523.9 L338.6 525.6 L341.9 524.1 L345.2 524.4 L348.5 525.4 L351.8 526.9 L355.1 521.9 L358.4 520.9 L361.7 521.5 L365.0 522.4 L368.3 524.2 L371.6 527.1 L374.9 528.9 L378.2 534.6 L381.5 535.7 L384.8 533.2 L388.1 533.7 L391.4 532.1 L394.6 532.1 L397.9 532.1 L401.2 528.5 L404.5 529.7 L407.8 532.4 L411.1 533.4 L414.4 534.7 L417.7 533.7 L421.0 533.1 L424.3 536.8 L427.6 535.2 L430.9 534.9 L434.2 534.9 L437.5 534.9 L440.8 534.9 L444.1 534.9 L447.4 534.9 L450.7 537.0 L454.0 537.2 L457.3 537.3 L460.6 537.5 L463.9 537.6 L467.2 537.7 L470.5 537.7 L473.8 537.7 L477.1 537.7 L480.3 537.7 L483.6 537.7 L486.9 537.7 L490.2 537.7 L493.5 537.7 L496.8 537.7 L500.1 537.7 L503.4 537.7 L506.7 537.7 L510.0 537.7 L513.3 536.9 L516.6 536.6 L519.9 536.2 L523.2 535.8 L526.5 535.8 L529.8 536.0 L533.1 536.5 L536.4 537.1 L539.7 537.1 L543.0 537.3 L546.3 537.9 L549.6 537.9 L552.9 537.9 L556.2 537.9 L559.5 537.2 L562.8 537.3 L566.1 534.7 L569.3 533.5 L572.6 532.8 L575.9 530.6 L579.2 530.3 L582.5 529.5 L585.8 527.8 L589.1 530.0 L592.4 526.2 L595.7 522.1 L599.0 520.0 L602.3 516.4 L605.6 509.2 L608.9 507.0 L612.2 489.1 L615.5 487.2 L618.8 487.7 L622.1 486.3 L625.4 486.3 L628.7 487.7 L632.0 488.2 L635.3 503.8 L638.6 509.5 L641.9 513.2 L645.2 517.2 L648.5 518.1 L651.8 520.1 L655.0 523.4 L658.3 524.6 L661.6 524.7 L664.9 526.2 L668.2 526.2 L671.5 528.1 L674.8 531.2 L678.1 530.6 L681.4 530.4 L684.7 530.6 L688.0 528.3 L691.3 525.1 L694.6 520.2 L697.9 510.3 L701.2 507.5 L704.5 502.9 L707.8 498.3 L711.1 496.3 L714.4 493.9 L717.7 493.2 L721.0 496.9 L724.3 492.2 L727.6 490.0 L730.9 486.0 L734.2 484.4 L737.5 482.9 L740.8 482.9 L744.0 481.3 L747.3 479.3 L750.6 480.4 L753.9 482.3 L757.2 484.6 L760.5 490.4 L763.8 494.8 L767.1 499.0 L770.4 507.7 L773.7 508.0 L777.0 512.7 L780.3 511.0 L783.6 510.9 L786.9 508.4 L790.2 511.2 L793.5 514.0 L796.8 516.3 L800.1 518.1 L803.4 523.9 L806.7 522.9 L810.0 526.5 L813.3 526.1 L816.6 525.9 L819.9 527.1 L823.2 529.1 L826.5 531.2 L829.7 532.0 L833.0 530.9 L836.3 528.4 L839.6 528.0 L842.9 525.0 L846.2 520.8 L849.5 516.9 L852.8 516.2 L856.1 515.3 L859.4 519.1 L862.7 516.4 L866.0 515.3 L869.3 518.2 L872.6 521.5 L875.9 521.8 L879.2 518.9 L882.5 518.1 L885.8 518.1 L889.1 518.9 L892.4 516.3 L895.7 515.2 L899.0 512.3 L902.3 514.1 L905.6 513.8 L908.9 511.4 L912.2 512.5 L915.4 511.2 L918.7 509.9 L922.0 509.7 L925.3 507.9 L928.6 504.9 L931.9 500.9 L935.2 496.3 L938.5 496.0 L941.8 495.2 L945.1 496.0 L948.4 499.5 L951.7 505.7 L955.0 514.0 L958.3 515.9 L961.6 515.1 L964.9 513.5 L968.2 512.6 L971.5 510.6 L974.8 508.4 L978.1 507.2 L981.4 505.5 L984.7 506.8 L988.0 509.9 L991.3 513.1 L994.6 512.2 L997.9 510.8 L1001.2 509.4 L1004.4 509.3 L1007.7 510.7 L1011.0 509.8 L1014.3 506.8 L1017.6 504.0 L1020.9 500.6 L1024.2 497.0 L1027.5 497.0 L1030.8 496.2 L1034.1 496.3 L1037.4 500.6 L1040.7 506.2 L1044.0 510.6 L1047.3 513.0 L1050.6 513.7 L1053.9 513.3 L1057.2 510.5 L1060.5 504.6 L1063.8 495.4 L1067.1 483.3 L1070.4 467.9 L1073.7 450.9 L1077.0 441.0 L1080.3 431.7 L1083.6 425.9 L1086.9 417.3 L1090.1 407.2 L1093.4 404.5 L1096.7 399.1 L1100.0 383.4 L1103.3 376.2 L1106.6 363.5 L1109.9 349.6 L1113.2 335.6 L1116.5 318.2 L1119.8 281.8 L1123.1 260.2 L1126.4 260.3 L1129.7 248.2 L1133.0 229.3 L1136.3 214.7 L1139.6 213.1 L1142.9 221.7 L1146.2 210.3 L1149.5 196.6 L1152.8 183.7 L1156.1 177.1 L1159.4 175.1 L1162.7 166.5 L1166.0 150.1 L1169.3 145.9 L1172.6 136.2 L1175.9 154.3 L1179.1 138.9 L1182.4 142.3 L1185.7 150.5 L1189.0 155.0 L1192.3 172.4 L1195.6 180.8 L1198.9 184.8 L1202.2 199.6 L1205.5 201.0 L1208.8 201.2 L1212.1 219.0 L1215.4 220.5 L1218.7 230.8 L1222.0 243.8 L1225.3 249.7 L1228.6 266.6 L1231.9 291.1 L1235.2 310.8 L1238.5 330.7 L1241.8 335.2 L1245.1 346.8 L1248.4 380.2 L1251.7 389.0 L1255.0 398.6 L1258.3 406.8 L1261.6 401.4 L1264.8 402.3 L1268.1 391.2 L1271.4 370.3 L1274.7 353.3 L1278.0 338.7 L1281.3 327.3 L1284.6 331.5 L1287.9 328.9 L1291.2 326.2 L1294.5 333.3 L1297.8 353.7 L1301.1 367.7 L1304.4 385.5 L1307.7 395.5 L1311.0 406.4 L1314.3 425.6 L1317.6 441.4 L1320.9 452.8 L1324.2 461.9 L1327.5 463.3 L1330.8 465.3 L1334.1 467.7 L1337.4 469.6 L1340.7 473.7 L1344.0 476.8 L1347.3 480.8 L1350.5 485.3 L1353.8 489.6 L1357.1 486.6 L1360.4 481.8 L1363.7 476.4 L1367.0 477.0 L1370.3 476.6 L1373.6 479.6 L1376.9 476.1 L1380.2 477.9 L1383.5 478.9 L1386.8 476.7 L1390.1 473.5 L1393.4 467.3 L1396.7 466.3 L1400.0 467.9 L1403.3 465.9 L1406.6 459.7 L1409.9 459.8 L1413.2 459.4 L1416.5 466.5 L1419.8 464.2 L1423.1 458.9 L1426.4 453.6 L1429.7 459.9 L1433.0 458.9 L1436.3 451.0 L1439.5 432.2 L1442.8 417.8 L1446.1 408.3 L1449.4 407.8 L1452.7 395.6 L1456.0 383.6 L1459.3 379.2 L1462.6 387.2 L1465.9 384.1 L1469.2 376.0 L1472.5 376.0 L1475.8 383.7 L1479.1 386.5 L1482.4 386.6 L1485.7 378.0 L1489.0 369.9 L1492.3 369.8 L1495.6 369.8 L1498.9 360.0 L1502.2 356.6 L1505.5 347.9 L1508.8 341.3 L1512.1 339.2 L1515.4 334.6 L1518.7 325.2 L1522.0 313.4 L1525.2 298.4 L1528.5 296.0 L1531.8 294.7 L1535.1 296.1 L1538.4 304.3 L1541.7 308.2 L1545.0 318.1 L1548.3 323.3" stroke="#ed7d31" stroke-width="2" stroke-linejoin="round" stroke-linecap="round" fill="none"/>
<g font-size="21.4" fill="#000" text-anchor="end">
<text x="103.1" y="546.4">0</text>
<text x="103.1" y="472.4">20</text>
<text x="103.1" y="398.4">40</text>
<text x="103.1" y="324.4">60</text>
<text x="103.1" y="250.4">80</text>
<text x="103.1" y="176.4">100</text>
<text x="103.1" y="102.4">120</text>
</g>
<g font-size="21.4" fill="#747474" text-anchor="start">
<text x="1623.6" y="546.4">0</text>
<text x="1623.6" y="472.4">20</text>
<text x="1623.6" y="398.4">40</text>
<text x="1623.6" y="324.4">60</text>
<text x="1623.6" y="250.4">80</text>
<text x="1623.6" y="176.4">100</text>
<text x="1623.6" y="102.4">120</text>
</g>
<g font-size="15.7" fill="#000" text-anchor="start" letter-spacing="0.07">
<text transform="translate(131.40 613.9) rotate(-90)">01-10-20</text>
<text transform="translate(154.40 613.9) rotate(-90)">08-10-20</text>
<text transform="translate(177.40 613.9) rotate(-90)">15-10-20</text>
<text transform="translate(200.40 613.9) rotate(-90)">22-10-20</text>
<text transform="translate(223.40 613.9) rotate(-90)">29-10-20</text>
<text transform="translate(247.40 613.9) rotate(-90)">05-11-20</text>
<text transform="translate(270.40 613.9) rotate(-90)">12-11-20</text>
<text transform="translate(293.40 613.9) rotate(-90)">19-11-20</text>
<text transform="translate(316.40 613.9) rotate(-90)">26-11-20</text>
<text transform="translate(339.40 613.9) rotate(-90)">03-12-20</text>
<text transform="translate(362.40 613.9) rotate(-90)">10-12-20</text>
<text transform="translate(385.40 613.9) rotate(-90)">17-12-20</text>
<text transform="translate(408.40 613.9) rotate(-90)">24-12-20</text>
<text transform="translate(431.40 613.9) rotate(-90)">31-12-20</text>
<text transform="translate(454.40 613.9) rotate(-90)">07-01-21</text>
<text transform="translate(477.40 613.9) rotate(-90)">14-01-21</text>
<text transform="translate(500.40 613.9) rotate(-90)">21-01-21</text>
<text transform="translate(523.40 613.9) rotate(-90)">28-01-21</text>
<text transform="translate(546.40 613.9) rotate(-90)">04-02-21</text>
<text transform="translate(570.40 613.9) rotate(-90)">11-02-21</text>
<text transform="translate(593.40 613.9) rotate(-90)">18-02-21</text>
<text transform="translate(616.40 613.9) rotate(-90)">25-02-21</text>
<text transform="translate(639.40 613.9) rotate(-90)">04-03-21</text>
<text transform="translate(662.40 613.9) rotate(-90)">11-03-21</text>
<text transform="translate(685.40 613.9) rotate(-90)">18-03-21</text>
<text transform="translate(708.40 613.9) rotate(-90)">25-03-21</text>
<text transform="translate(731.40 613.9) rotate(-90)">01-04-21</text>
<text transform="translate(754.40 613.9) rotate(-90)">08-04-21</text>
<text transform="translate(777.40 613.9) rotate(-90)">15-04-21</text>
<text transform="translate(800.40 613.9) rotate(-90)">22-04-21</text>
<text transform="translate(823.40 613.9) rotate(-90)">29-04-21</text>
<text transform="translate(846.40 613.9) rotate(-90)">06-05-21</text>
<text transform="translate(870.40 613.9) rotate(-90)">13-05-21</text>
<text transform="translate(893.40 613.9) rotate(-90)">20-05-21</text>
<text transform="translate(916.40 613.9) rotate(-90)">27-05-21</text>
<text transform="translate(939.40 613.9) rotate(-90)">03-06-21</text>
<text transform="translate(962.40 613.9) rotate(-90)">10-06-21</text>
<text transform="translate(985.40 613.9) rotate(-90)">17-06-21</text>
<text transform="translate(1008.40 613.9) rotate(-90)">24-06-21</text>
<text transform="translate(1031.40 613.9) rotate(-90)">01-07-21</text>
<text transform="translate(1054.40 613.9) rotate(-90)">08-07-21</text>
<text transform="translate(1077.40 613.9) rotate(-90)">15-07-21</text>
<text transform="translate(1100.40 613.9) rotate(-90)">22-07-21</text>
<text transform="translate(1123.40 613.9) rotate(-90)">29-07-21</text>
<text transform="translate(1146.40 613.9) rotate(-90)">05-08-21</text>
<text transform="translate(1169.40 613.9) rotate(-90)">12-08-21</text>
<text transform="translate(1193.40 613.9) rotate(-90)">19-08-21</text>
<text transform="translate(1216.40 613.9) rotate(-90)">26-08-21</text>
<text transform="translate(1239.40 613.9) rotate(-90)">02-09-21</text>
<text transform="translate(1262.40 613.9) rotate(-90)">09-09-21</text>
<text transform="translate(1285.40 613.9) rotate(-90)">16-09-21</text>
<text transform="translate(1308.40 613.9) rotate(-90)">23-09-21</text>
<text transform="translate(1331.40 613.9) rotate(-90)">30-09-21</text>
<text transform="translate(1354.40 613.9) rotate(-90)">07-10-21</text>
<text transform="translate(1377.40 613.9) rotate(-90)">14-10-21</text>
<text transform="translate(1400.40 613.9) rotate(-90)">21-10-21</text>
<text transform="translate(1423.40 613.9) rotate(-90)">28-10-21</text>
<text transform="translate(1446.40 613.9) rotate(-90)">04-11-21</text>
<text transform="translate(1469.40 613.9) rotate(-90)">11-11-21</text>
<text transform="translate(1492.40 613.9) rotate(-90)">18-11-21</text>
<text transform="translate(1516.40 613.9) rotate(-90)">25-11-21</text>
<text transform="translate(1539.40 613.9) rotate(-90)">02-12-21</text>
<text transform="translate(1562.40 613.9) rotate(-90)">09-12-21</text>
<text transform="translate(1585.40 613.9) rotate(-90)">16-12-21</text>
<text transform="translate(1608.40 613.9) rotate(-90)">23-12-21</text>
</g>
<text font-size="20.3" fill="#000" transform="translate(24.3 431) rotate(-90)"><tspan x="-1.22" letter-spacing="-0.291">Ρυθμός</tspan> <tspan x="72.91" letter-spacing="-0.124">μεταβολής</tspan> <tspan x="172.71" letter-spacing="-0.001">κρουσμάτων</tspan></text>
<rect x="92" y="21" width="34" height="12" fill="#a5a5a5" shape-rendering="crispEdges"/>
<path d="M92 63 H126" stroke="#4472c4" stroke-width="2" stroke-linecap="round" fill="none"/>
<path d="M927 27 H961.1" stroke="#ff0000" stroke-width="4" stroke-linecap="round" stroke-dasharray="12 16" fill="none"/>
<path d="M927 63 H961" stroke="#ed7d31" stroke-width="2" stroke-linecap="round" fill="none"/>
<text font-size="19.7" fill="#000" y="33.65"><tspan x="130.21" letter-spacing="0.173">Κρούσματα</tspan> <tspan x="239.72" letter-spacing="0.682">ανά</tspan> <tspan x="280.40" letter-spacing="-0.185" font-size="21.4">100.000</tspan> <tspan x="362.70" letter-spacing="0.034">(Κυλιόμενος</tspan> <tspan x="477.03" letter-spacing="0.172">μέσος</tspan> <tspan x="537.51" letter-spacing="0.445">όρος</tspan> <tspan x="588.81" letter-spacing="0.000" font-size="21.4">7</tspan> <tspan x="606.32" letter-spacing="0.375">ημερών)</tspan></text>
<text font-size="19.7" fill="#000" y="68.7"><tspan x="130.21" letter-spacing="0.000">Ρυθμός</tspan> <tspan x="203.53" letter-spacing="0.198">μεταβολής</tspan> <tspan x="304.23" letter-spacing="0.281">κρουσμάτων</tspan> <tspan x="423.93" letter-spacing="0.277">μοντέλου</tspan> <tspan x="513.40" letter-spacing="0.188">(7days</tspan> <tspan x="579.92" letter-spacing="0.311">moving</tspan> <tspan x="651.48" letter-spacing="0.326">average)</tspan></text>
<text font-size="19.7" fill="#000" y="33.65"><tspan x="964.94" letter-spacing="0.970">Όριο</tspan> <tspan x="1015.23" letter-spacing="0.215">μετάβασης</tspan> <tspan x="1119.71" letter-spacing="-0.025">σε</tspan> <tspan x="1147.23" letter-spacing="0.256">κόκκινη</tspan> <tspan x="1222.85" letter-spacing="0.070">περιοχή</tspan></text>
<text font-size="19.7" fill="#000" y="68.7"><tspan x="964.21" letter-spacing="-0.040">Ρυθμός</tspan> <tspan x="1037.73" letter-spacing="0.148">μεταβολής</tspan> <tspan x="1138.19" letter-spacing="0.189">επιβεβαιωμένων</tspan> <tspan x="1292.23" letter-spacing="0.159">κρουσμάτων</tspan> <tspan x="1411.30" letter-spacing="0.288">(7days</tspan> <tspan x="1477.72" letter-spacing="0.351">moving</tspan> <tspan x="1549.78" letter-spacing="0.226">average)</tspan></text>
</svg></body></html>
